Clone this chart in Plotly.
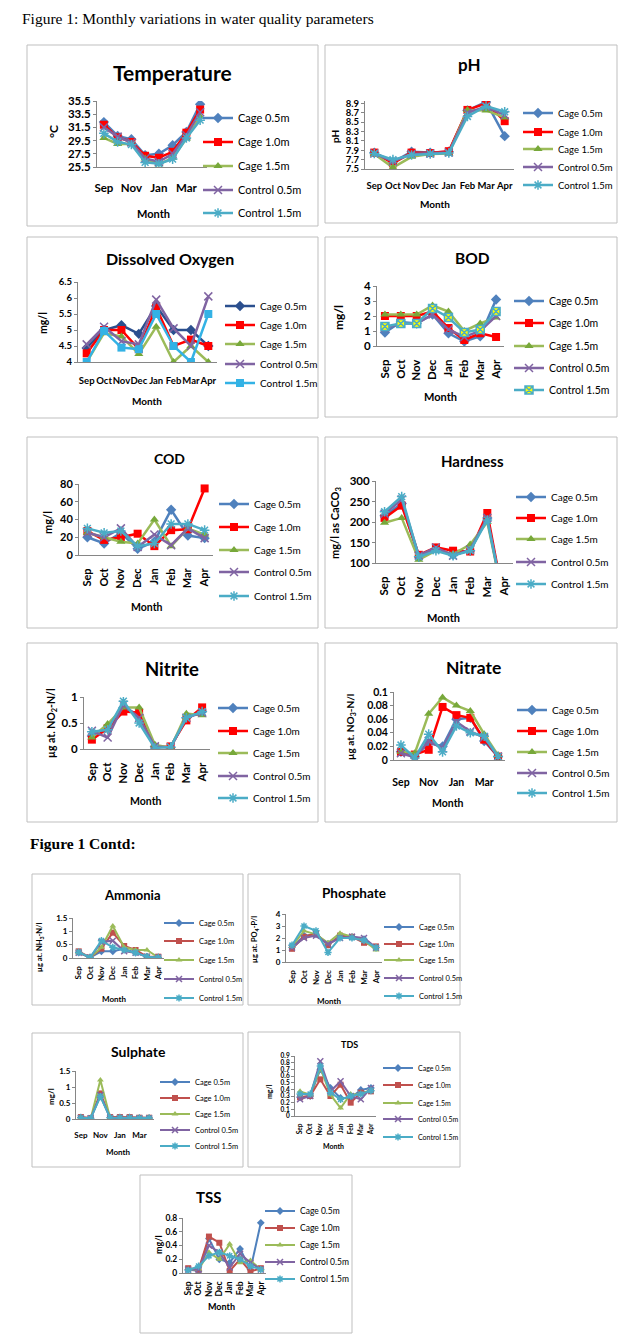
import plotly.graph_objects as go

# page has an 8px body margin; figure is sized to fill the rest of the window
OFF = 8
W, H = 638 - OFF, 1336 - OFF
FONT = "Lato, 'Open Sans', sans-serif"
SERIF = "'Liberation Serif', 'Times New Roman', serif"

months = ["Sep", "Oct", "Nov", "Dec", "Jan", "Feb", "Mar", "Apr"]
series = ["Cage 0.5m", "Cage 1.0m", "Cage 1.5m", "Control 0.5m", "Control 1.5m"]

temperature = [
    [32.3, 30.2, 29.7, 27.3, 27.5, 28.8, 30.8, 35.0],
    [31.9, 30.0, 29.3, 27.2, 26.9, 27.8, 30.7, 34.2],
    [29.9, 29.0, 29.0, 26.8, 25.9, 26.9, 29.8, 33.1],
    [31.5, 30.1, 29.2, 26.8, 26.3, 27.5, 30.3, 33.8],
    [30.6, 29.3, 28.9, 26.2, 26.0, 26.7, 29.9, 32.6],
]
ph = [
    [7.85, 7.65, 7.87, 7.85, 7.87, 8.75, 8.93, 8.20],
    [7.85, 7.62, 7.85, 7.84, 7.88, 8.76, 8.90, 8.52],
    [7.82, 7.53, 7.76, 7.82, 7.83, 8.76, 8.75, 8.60],
    [7.83, 7.66, 7.82, 7.83, 7.85, 8.70, 8.83, 8.65],
    [7.83, 7.70, 7.80, 7.82, 7.84, 8.62, 8.84, 8.72],
]
dissolved_oxygen = [
    [4.44, 5.00, 5.15, 4.88, 5.75, 5.00, 5.00, 4.50],
    [4.27, 5.00, 5.00, 4.40, 5.70, 4.50, 4.70, 4.50],
    [4.00, 4.90, 4.80, 4.25, 5.10, 4.00, 4.50, 4.00],
    [4.55, 5.10, 4.65, 4.55, 5.95, 5.05, 4.50, 6.05],
    [4.00, 4.97, 4.45, 4.40, 5.50, 4.50, 4.00, 5.50],
]
bod = [
    [0.9, 1.6, 1.5, 2.1, 0.85, 0.3, 0.65, 3.1],
    [2.0, 2.0, 2.0, 2.3, 1.2, 0.4, 0.85, 0.6],
    [2.1, 2.1, 2.1, 2.7, 2.3, 1.0, 1.5, 1.9],
    [1.2, 1.5, 1.5, 2.1, 1.1, 0.6, 1.0, 2.0],
    [1.3, 1.5, 1.5, 2.5, 1.9, 0.9, 1.1, 2.3],
]
cod = [
    [20, 13, 25, 7, 15, 51, 22, 19],
    [27, 17, 20, 24, 10, 28, 29, 75],
    [25, 20, 15, 13, 40, 10, 30, 23],
    [25, 20, 30, 9, 23, 11, 30, 19],
    [30, 25, 27, 10, 13, 35, 35, 28],
]
hardness = [
    [215, 245, 115, 135, 120, 130, 210, 0],
    [210, 240, 120, 138, 130, 128, 222, 0],
    [198, 210, 108, 130, 122, 145, 200, 0],
    [220, 255, 118, 138, 118, 133, 210, 0],
    [225, 262, 115, 130, 118, 130, 205, 0],
]
nitrite = [
    [0.25, 0.40, 0.80, 0.65, 0.05, 0.03, 0.60, 0.72],
    [0.18, 0.40, 0.72, 0.70, 0.03, 0.05, 0.55, 0.80],
    [0.22, 0.48, 0.80, 0.80, 0.08, 0.02, 0.68, 0.65],
    [0.35, 0.22, 0.85, 0.60, 0.05, 0.03, 0.60, 0.70],
    [0.33, 0.37, 0.92, 0.50, 0.02, 0.04, 0.60, 0.72],
]
nitrate = [
    [0.012, 0.005, 0.025, 0.020, 0.060, 0.062, 0.028, 0.005],
    [0.012, 0.008, 0.015, 0.078, 0.066, 0.062, 0.030, 0.005],
    [0.012, 0.010, 0.068, 0.092, 0.080, 0.072, 0.038, 0.007],
    [0.010, 0.004, 0.028, 0.017, 0.056, 0.042, 0.033, 0.005],
    [0.022, 0.003, 0.038, 0.012, 0.050, 0.040, 0.035, 0.005],
]
ammonia = [
    [0.20, 0.02, 0.25, 0.25, 0.35, 0.20, 0.05, 0.02],
    [0.25, 0.02, 0.35, 0.95, 0.45, 0.30, 0.05, 0.05],
    [0.20, 0.02, 0.40, 1.20, 0.40, 0.30, 0.30, 0.02],
    [0.20, 0.02, 0.60, 0.65, 0.25, 0.20, 0.05, 0.02],
    [0.22, 0.02, 0.65, 0.40, 0.30, 0.20, 0.05, 0.02],
]
phosphate = [
    [1.2, 2.2, 2.3, 1.5, 2.1, 2.1, 1.9, 1.2],
    [1.1, 2.1, 2.4, 1.4, 2.2, 2.1, 1.6, 1.3],
    [1.3, 2.6, 2.3, 1.6, 2.4, 2.1, 1.8, 1.0],
    [1.2, 2.0, 2.2, 1.5, 2.0, 2.1, 2.0, 1.2],
    [1.4, 3.0, 2.6, 0.8, 2.0, 2.0, 1.8, 1.2],
]
sulphate = [
    [0.05, 0.02, 0.72, 0.05, 0.05, 0.05, 0.03, 0.03],
    [0.06, 0.03, 0.80, 0.06, 0.06, 0.06, 0.04, 0.04],
    [0.03, 0.00, 1.22, 0.03, 0.03, 0.03, 0.03, 0.03],
    [0.03, 0.02, 0.75, 0.03, 0.03, 0.03, 0.02, 0.02],
    [0.04, 0.02, 0.70, 0.04, 0.04, 0.04, 0.03, 0.03],
]
tds = [
    [0.28, 0.30, 0.70, 0.42, 0.27, 0.27, 0.39, 0.42],
    [0.28, 0.30, 0.55, 0.30, 0.47, 0.20, 0.35, 0.37],
    [0.37, 0.32, 0.72, 0.32, 0.12, 0.33, 0.32, 0.40],
    [0.25, 0.30, 0.82, 0.37, 0.52, 0.30, 0.25, 0.42],
    [0.33, 0.33, 0.75, 0.35, 0.25, 0.30, 0.33, 0.38],
]
tss = [
    [0.05, 0.03, 0.50, 0.20, 0.15, 0.35, 0.05, 0.73],
    [0.07, 0.05, 0.53, 0.44, 0.03, 0.20, 0.02, 0.07],
    [0.05, 0.05, 0.30, 0.20, 0.42, 0.15, 0.18, 0.05],
    [0.05, 0.05, 0.40, 0.30, 0.08, 0.28, 0.15, 0.05],
    [0.04, 0.10, 0.25, 0.30, 0.25, 0.20, 0.10, 0.05],
]

alt_months = ["Sep", "Nov", "Jan", "Mar"]


def px2x(x):
    return (x - OFF) / W


def px2y(y):
    return 1 - (y - OFF) / H


def styles(kind):
    big = kind in ("top", "do", "bod")
    ms = 8 if big else 6
    lw = 2.5 if big else 2
    red = "#FF0000" if big else "#C0504D"
    st = [
        dict(color="#4F81BD", symbol="diamond", mcolor="#4F81BD", mline="#4F81BD", mlw=0),
        dict(color=red, symbol="square", mcolor=red, mline=red, mlw=0),
        dict(color="#9BBB59", symbol="triangle-up", mcolor="#77A83A" if big else "#9BBB59", mline="#9BBB59", mlw=0),
        dict(color="#8064A2", symbol="x-thin-open", mcolor="#8064A2", mline="#8064A2", mlw=1.5),
        dict(color="#4BACC6", symbol="asterisk-open", mcolor="#4BACC6", mline="#4BACC6", mlw=1.5),
    ]
    if kind == "do":
        st[0].update(color="#2B4F8E", mcolor="#2B4F8E", mline="#2B4F8E")
        st[4].update(color="#33B2E5", symbol="square", mcolor="#33B2E5", mline="#33B2E5", mlw=0)
    if kind == "bod":
        st[4].update(symbol="square-x", mcolor="#FFFF00", mline="#4BACC6", mlw=1.5)
    for s in st:
        s["ms"] = ms
        s["lw"] = lw
    return st


panels = [
    dict(title="Temperature", data=temperature, kind="top", box=(27, 45, 318, 226), plot=(97, 101, 207, 167),
         yr=[25.5, 35.5], t0=25.5, dt=2, fmt=".1f", xt=alt_months, ang=0, stand=10,
         tpos=(172, 72), ts=21, ylab="°C", ypos=(53, 132), ls=12, mpos=(153, 213), ms=11,
         tf=11.5, lx=198, ly=[118, 142, 166, 190, 213], lf=11),
    dict(title="pH", data=ph, kind="top", box=(325, 45, 617, 223), plot=(365, 101, 514, 169),
         yr=[7.5, 8.95], t0=7.5, dt=0.2, fmt=".1f", xt=months, ang=0, stand=8,
         tpos=(470, 65), ts=17, ylab="pH", ypos=(335, 137), ls=10, mpos=(435, 204), ms=10,
         tf=9.5, lx=518, ly=[113, 132, 149, 167, 185], lf=9.5),
    dict(title="Dissolved Oxygen", data=dissolved_oxygen, kind="do", box=(27, 237, 318, 418), plot=(78, 282, 217, 362),
         yr=[4, 6.5], t0=4, dt=0.5, fmt="", xt=months, ang=0, stand=10,
         tpos=(170, 258), ts=16, ylab="mg/l", ypos=(43, 323), ls=10.5, mpos=(147, 401), ms=10,
         tf=9.5, lx=220, ly=[306, 325, 344, 364, 383], lf=10),
    dict(title="BOD", data=bod, kind="bod", box=(325, 237, 617, 417), plot=(377, 286, 504, 346),
         yr=[0, 4], t0=0, dt=1, fmt="", xt=months, ang=-90, stand=8,
         tpos=(472, 258), ts=15.5, ylab="mg/l", ypos=(338, 318), ls=12, mpos=(440, 396), ms=11,
         tf=11.5, lx=509, ly=[301, 323, 346, 368, 390], lf=10.5),
    dict(title="COD", data=cod, kind="top", box=(27, 437, 318, 628), plot=(79, 484, 213, 555),
         yr=[0, 80], t0=0, dt=20, fmt="", xt=months, ang=-90, stand=8,
         tpos=(170, 458), ts=14, ylab="mg/l", ypos=(47, 523), ls=11, mpos=(147, 607), ms=10.5,
         tf=11, lx=214, ly=[504, 527, 550, 572, 596], lf=10),
    dict(title="Hardness", data=hardness, kind="top", box=(325, 437, 617, 628), plot=(376, 481, 513, 563),
         yr=[100, 300], t0=100, dt=50, fmt="", xt=months, ang=-90, stand=8,
         tpos=(472, 461), ts=15, ylab="mg/l as CaCO<sub>3</sub>", ypos=(335, 523), ls=11, mpos=(443, 618), ms=11,
         tf=11.5, lx=511, ly=[497, 518, 539, 562, 584], lf=10),
    dict(title="Nitrite", data=nitrite, kind="top", box=(27, 643, 318, 822), plot=(84, 697, 210, 749),
         yr=[0, 1], t0=0, dt=0.5, fmt="", xt=months, ang=-90, stand=8,
         tpos=(172, 669), ts=18.5, ylab="µg at. NO<sub>2</sub>-N/l", ypos=(52, 723), ls=10.5, mpos=(146, 801), ms=10.5,
         tf=11.5, lx=213, ly=[708, 731, 753, 776, 798], lf=10),
    dict(title="Nitrate", data=nitrate, kind="top", box=(325, 643, 617, 822), plot=(394, 692, 505, 760),
         yr=[0, 0.1], t0=0, dt=0.02, fmt="", xt=alt_months, ang=0, stand=12,
         tpos=(473, 667), ts=17.5, ylab="µg at. NO<sub>3</sub>-N/l", ypos=(350, 727), ls=10, mpos=(448, 803), ms=10.5,
         tf=10.5, lx=512, ly=[710, 731, 752, 773, 793], lf=10),
    dict(title="Ammonia", data=ammonia, kind="small", box=(32, 874, 243, 1005), plot=(73, 918, 164, 958),
         yr=[0, 1.5], t0=0, dt=0.5, fmt="", xt=months, ang=-90, stand=4,
         tpos=(132, 895), ts=13, ylab="µg at. NH<sub>3</sub>-N/l", ypos=(40, 947), ls=7.5, mpos=(114, 999), ms=8,
         tf=8, lx=159, ly=[923, 941, 960, 979, 998], lf=7.5),
    dict(title="Phosphate", data=phosphate, kind="small", box=(248, 874, 460, 1005), plot=(286, 914, 382, 962),
         yr=[0, 4], t0=0, dt=1, fmt="", xt=months, ang=-90, stand=4,
         tpos=(354, 893), ts=13.5, ylab="µg at. PO<sub>4</sub>-P/l", ypos=(255, 940), ls=7.5, mpos=(329, 1001), ms=8,
         tf=8, lx=379, ly=[927, 944, 960, 978, 996], lf=7.5),
    dict(title="Sulphate", data=sulphate, kind="small", box=(32, 1033, 243, 1167), plot=(76, 1071, 154, 1119),
         yr=[0, 1.5], t0=0, dt=0.5, fmt="", xt=alt_months, ang=0, stand=8,
         tpos=(138, 1051), ts=14, ylab="mg/l", ypos=(51, 1096), ls=8, mpos=(118, 1152), ms=8,
         tf=8, lx=155, ly=[1082, 1098, 1114, 1130, 1146], lf=7.5),
    dict(title="TDS", data=tds, kind="small", box=(248, 1032, 460, 1167), plot=(295, 1056, 376, 1116),
         yr=[0, 0.9], t0=0, dt=0.1, fmt="", xt=months, ang=-90, stand=4,
         tpos=(349, 1044), ts=9, ylab="mg/l", ypos=(269, 1092), ls=7, mpos=(333, 1146), ms=7,
         tf=6.5, lx=378, ly=[1068, 1085, 1103, 1119, 1137], lf=7),
    dict(title="TSS", data=tss, kind="small", box=(140, 1175, 352, 1333), plot=(183, 1218, 266, 1273),
         yr=[0, 0.8], t0=0, dt=0.2, fmt="", xt=months, ang=-90, stand=4,
         tpos=(209, 1197), ts=15, ylab="mg/l", ypos=(158, 1245), ls=9, mpos=(221, 1306), ms=9,
         tf=8.5, lx=260, ly=[1211, 1228, 1245, 1262, 1279], lf=8.5),
]

fig = go.Figure()
layout = dict(width=W, height=H, margin=dict(l=0, r=0, t=0, b=0, pad=0, autoexpand=False),
              paper_bgcolor="white", plot_bgcolor="white", showlegend=True)
shapes = []
annotations = [
    dict(text="Figure 1: Monthly variations in water quality parameters", x=px2x(20), y=1,
         xref="paper", yref="paper", xanchor="left", yanchor="top", showarrow=False,
         font=dict(family=SERIF, size=15.5, color="black")),
    dict(text="<b>Figure 1 Contd:</b>", x=px2x(28), y=px2y(843),
         xref="paper", yref="paper", xanchor="left", yanchor="middle", showarrow=False,
         font=dict(family=SERIF, size=15.5, color="black")),
]

leg_n = 0
for i, p in enumerate(panels, start=1):
    xa = "xaxis" if i == 1 else f"xaxis{i}"
    ya = "yaxis" if i == 1 else f"yaxis{i}"
    xr = "x" if i == 1 else f"x{i}"
    yr = "y" if i == 1 else f"y{i}"
    x0, y0, x1, y1 = p["plot"]
    tickfont = dict(family=FONT, size=p["tf"], color="black", weight="bold")
    layout[xa] = dict(domain=[px2x(x0), px2x(x1)], anchor=yr, type="category",
                      categoryorder="array", categoryarray=months, range=[-0.5, 7.5],
                      showline=True, linecolor="#868686", linewidth=1, ticks="",
                      tickmode="array", tickvals=p["xt"], ticktext=p["xt"], tickangle=p["ang"],
                      tickfont=tickfont, ticklabelstandoff=p["stand"],
                      showgrid=False, zeroline=False, fixedrange=True)
    layout[ya] = dict(domain=[px2y(y1), px2y(y0)], anchor=xr, range=p["yr"], tickmode="linear",
                      tick0=p["t0"], dtick=p["dt"], tickformat=p["fmt"],
                      showline=True, linecolor="#868686", linewidth=1, ticks="outside", ticklen=3,
                      tickcolor="#868686", tickfont=tickfont, showgrid=False, zeroline=False,
                      fixedrange=True)
    bx0, by0, bx1, by1 = p["box"]
    shapes.append(dict(type="rect", xref="paper", yref="paper", x0=px2x(bx0), x1=px2x(bx1),
                       y0=px2y(by1), y1=px2y(by0), line=dict(color="#BFBFBF", width=1)))
    annotations.append(dict(text=f"<b>{p['title']}</b>", x=px2x(p["tpos"][0]), y=px2y(p["tpos"][1]),
                            xref="paper", yref="paper", xanchor="center", yanchor="middle",
                            showarrow=False, font=dict(family=FONT, size=p["ts"], color="black")))
    annotations.append(dict(text=f"<b>{p['ylab']}</b>", x=px2x(p["ypos"][0]), y=px2y(p["ypos"][1]),
                            xref="paper", yref="paper", xanchor="center", yanchor="middle",
                            textangle=-90, showarrow=False,
                            font=dict(family=FONT, size=p["ls"], color="black")))
    annotations.append(dict(text="<b>Month</b>", x=px2x(p["mpos"][0]), y=px2y(p["mpos"][1]),
                            xref="paper", yref="paper", xanchor="center", yanchor="middle",
                            showarrow=False, font=dict(family=FONT, size=p["ms"], color="black")))
    st = styles(p["kind"])
    for k, (name, vals) in enumerate(zip(series, p["data"])):
        leg_n += 1
        lid = "legend" if leg_n == 1 else f"legend{leg_n}"
        s = st[k]
        fig.add_trace(go.Scatter(
            x=months, y=vals, xaxis=xr, yaxis=yr, name=name, mode="lines+markers",
            line=dict(color=s["color"], width=s["lw"]),
            marker=dict(symbol=s["symbol"], size=s["ms"], color=s["mcolor"],
                        line=dict(color=s["mline"], width=s["mlw"])),
            legend=lid, hoverinfo="skip"))
        layout[lid] = dict(x=px2x(p["lx"]), y=px2y(p["ly"][k]), xanchor="left", yanchor="middle",
                           bgcolor="rgba(0,0,0,0)", borderwidth=0, itemwidth=30,
                           font=dict(family=FONT, size=p["lf"], color="black"))

layout["shapes"] = shapes
layout["annotations"] = annotations
fig.update_layout(**layout)
fig.write_html("out.html")
